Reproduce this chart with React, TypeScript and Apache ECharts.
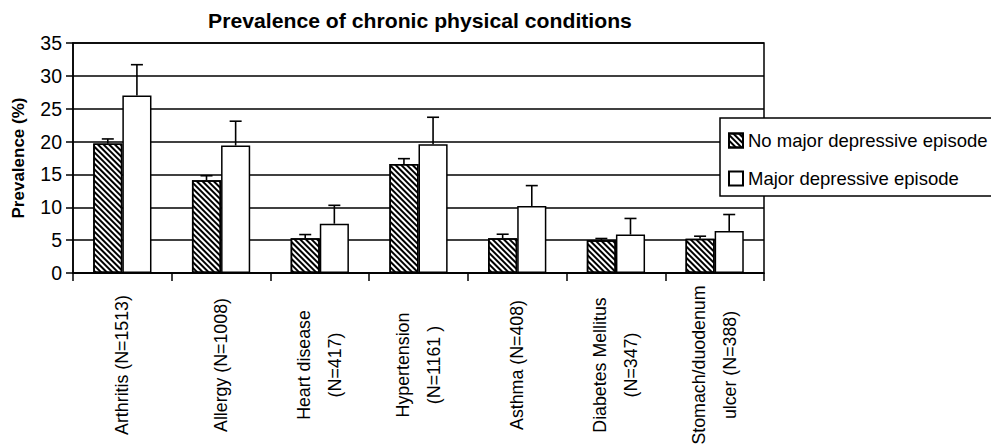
import React, { useEffect, useRef } from "react";
import * as echarts from "echarts";

const titleText = "Prevalence of chronic physical conditions";
const yAxisName = "Prevalence (%)";
const categories = [
  "Arthritis (N=1513)",
  "Allergy (N=1008)",
  "Heart disease\n(N=417)",
  "Hypertension\n(N=1161 )",
  "Asthma (N=408)",
  "Diabetes Mellitus\n(N=347)",
  "Stomach/duodenum\nulcer (N=388)",
];
const seriesNames = ["No major depressive episode", "Major depressive episode"];
const noMde = [19.7, 14.1, 5.3, 16.6, 5.3, 5.0, 5.2];
const noMdeUpper = [20.4, 14.8, 5.85, 17.4, 5.9, 5.25, 5.6];
const mde = [27.0, 19.4, 7.5, 19.6, 10.2, 5.85, 6.4];
const mdeUpper = [31.7, 23.1, 10.3, 23.7, 13.3, 8.3, 8.9];
const yTicks = { min: 0, max: 35, interval: 5 };

const FONT = "'Liberation Sans', Arial, sans-serif";
const BAR_FRACTION = 0.59;

function errorSeries(values: number[], upper: number[], side: number) {
  return {
    type: "custom",
    silent: true,
    z: 5,
    data: values.map((v, i) => [i, upper[i], v]),
    encode: { x: 0, y: 1 },
    renderItem: (params: any, api: any) => {
      const band = api.size([1, 0])[0];
      const off = (band * BAR_FRACTION) / 4 * side;
      const base = api.coord([api.value(0), api.value(2)]);
      const top = api.coord([api.value(0), api.value(1)]);
      const x = base[0] + off;
      const cap = 6;
      const style = { stroke: "#000", lineWidth: 1.6 };
      return {
        type: "group",
        children: [
          { type: "line", shape: { x1: x, y1: base[1], x2: x, y2: top[1] }, style },
          { type: "line", shape: { x1: x - cap, y1: top[1], x2: x + cap, y2: top[1] }, style },
        ],
      };
    },
  };
}

export default function App() {
  const ref = useRef<HTMLDivElement>(null);
  useEffect(() => {
    if (!ref.current) return;
    const chart = echarts.init(ref.current, null, { renderer: "svg" });
    chart.setOption({
      animation: false,
      backgroundColor: "#fff",
      textStyle: { fontFamily: FONT, color: "#000" },
      graphic: [
        {
          type: "text",
          x: 420,
          y: 21,
          scaleX: 1.06,
          style: {
            text: titleText,
            fontFamily: FONT,
            fontSize: 20,
            fontWeight: "bold",
            fill: "#000",
            textAlign: "center",
            textVerticalAlign: "middle",
          },
        },
      ],
      legend: {
        orient: "vertical",
        left: 720,
        top: 118,
        padding: [13, 5, 8, 8],
        itemWidth: 14,
        itemHeight: 14,
        itemGap: 19,
        borderColor: "#000",
        borderWidth: 1.5,
        backgroundColor: "#fff",
        icon: "rect",
        data: seriesNames,
        textStyle: { fontFamily: FONT, fontSize: 18.5, color: "#000" },
      },
      grid: {
        left: 73,
        right: 227,
        top: 43,
        bottom: 175,
        show: true,
        containLabel: false,
        outerBoundsMode: "none",
        borderColor: "#000",
        borderWidth: 1.5,
      },
      xAxis: {
        type: "category",
        data: categories,
        axisLine: { lineStyle: { color: "#000", width: 1.5 } },
        axisTick: { show: true, length: 8, lineStyle: { color: "#000", width: 1.5 } },
        axisLabel: {
          interval: 0,
          rotate: 90,
          align: "center",
          verticalAlign: "middle",
          margin: 92,
          fontSize: 17.8,
          lineHeight: 31,
          color: "#000",
          fontFamily: FONT,
        },
      },
      yAxis: {
        type: "value",
        min: yTicks.min,
        max: yTicks.max,
        interval: yTicks.interval,
        name: yAxisName,
        nameLocation: "middle",
        nameRotate: 90,
        nameGap: 46,
        nameTextStyle: { fontFamily: FONT, fontSize: 17, fontWeight: "bold", color: "#000" },
        axisLine: { show: true, lineStyle: { color: "#000", width: 1.5 } },
        axisTick: { show: true, length: 7, lineStyle: { color: "#000", width: 1.5 } },
        axisLabel: { fontSize: 19.5, margin: 11, color: "#000", fontFamily: FONT },
        splitLine: { lineStyle: { color: "#000", width: 1.5 } },
      },
      series: [
        {
          name: seriesNames[0],
          type: "bar",
          data: noMde,
          barGap: "0%",
          barCategoryGap: "41%",
          itemStyle: {
            color: "#fff",
            borderColor: "#000",
            borderWidth: 1.5,
            decal: {
              symbol: "rect",
              color: "#000",
              dashArrayX: [1, 0],
              dashArrayY: [1.8, 1.7],
              rotation: Math.PI / 4,
            },
          },
        },
        {
          name: seriesNames[1],
          type: "bar",
          data: mde,
          barGap: "0%",
          barCategoryGap: "41%",
          itemStyle: { color: "#fff", borderColor: "#000", borderWidth: 1.5 },
        },
        errorSeries(noMde, noMdeUpper, -1),
        errorSeries(mde, mdeUpper, 1),
      ],
    });
    return () => chart.dispose();
  }, []);
  return (
    <div
      ref={ref}
      style={{ position: "absolute", left: 0, top: 0, width: 991, height: 448 }}
    />
  );
}
